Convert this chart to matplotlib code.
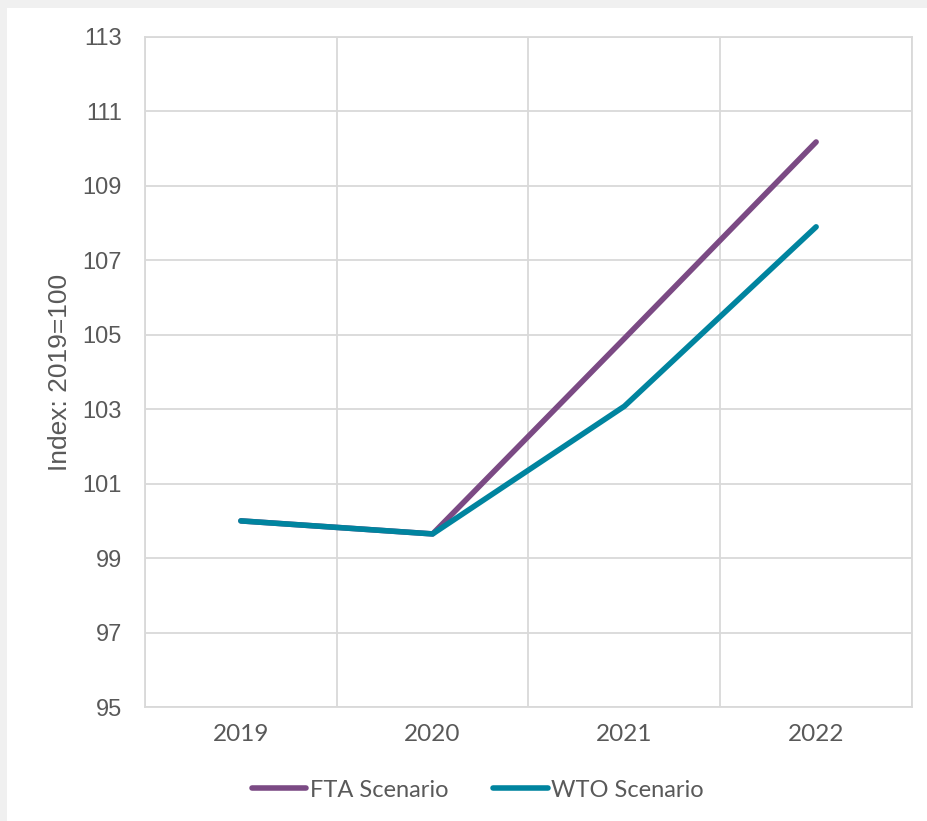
import matplotlib.pyplot as plt
from matplotlib.patches import Rectangle

plt.rcParams['font.family'] = ['Lato', 'DejaVu Sans']

years = ['2019', '2020', '2021', '2022']
fta = [100.0, 99.65, 104.9, 110.18]
wto = [100.0, 99.65, 103.08, 107.9]
yticks = [95, 97, 99, 101, 103, 105, 107, 109, 111, 113]

grey_text = '#595959'
grid_col = '#d9d9d9'

fig = plt.figure(figsize=(9.28, 8.21), dpi=100)
fig.patch.set_facecolor('#f0f0f0')
# white chart panel, leaving a thin grey band at top and left
fig.patches.append(Rectangle((7 / 928, 0), 1, 1 - 8 / 821, transform=fig.transFigure,
                             facecolor='white', edgecolor='none', zorder=-5))

ax = fig.add_axes([145 / 928, 1 - 707 / 821, (912 - 145) / 928, (707 - 37) / 821])
ax.set_facecolor('white')

x = list(range(1, len(years) + 1))
ax.plot(x, fta, color='#7b4a84', lw=4, solid_capstyle='round', label='FTA Scenario', zorder=3)
ax.plot(x, wto, color='#00849f', lw=4, solid_capstyle='round', label='WTO Scenario', zorder=4)

ax.set_xlim(0.5, 4.5)
ax.set_ylim(95, 113)
ax.set_yticks(yticks)
ax.set_xticks(x)
ax.set_xticklabels(years)
ax.set_xticks([i + 0.5 for i in range(0, 5)], minor=True)
ax.grid(True, which='minor', axis='x', color=grid_col, lw=1.3)
ax.grid(True, which='major', axis='y', color=grid_col, lw=1.3)
ax.tick_params(which='both', length=0)
ax.tick_params(axis='y', pad=16.5, labelcolor=grey_text)
ax.tick_params(axis='x', pad=12, labelsize=17.5, labelcolor=grey_text)
for lab in ax.get_yticklabels():
    lab.set_fontfamily('Liberation Sans')
    lab.set_fontsize(17)
for s in ax.spines.values():
    s.set_color(grid_col)
    s.set_linewidth(1.3)

ax.set_ylabel('Index: 2019=100', fontsize=19, color=grey_text, family='Liberation Sans')
ax.yaxis.set_label_coords(-0.095, 0.5)

leg = fig.legend(loc='center', bbox_to_anchor=(478 / 928, 1 - 790 / 821), ncol=2,
                 frameon=False, fontsize=17, handlelength=2.3, handletextpad=0.15,
                 columnspacing=1.9)
for t in leg.get_texts():
    t.set_color(grey_text)

fig.savefig('out.png', dpi=100, facecolor=fig.get_facecolor())
